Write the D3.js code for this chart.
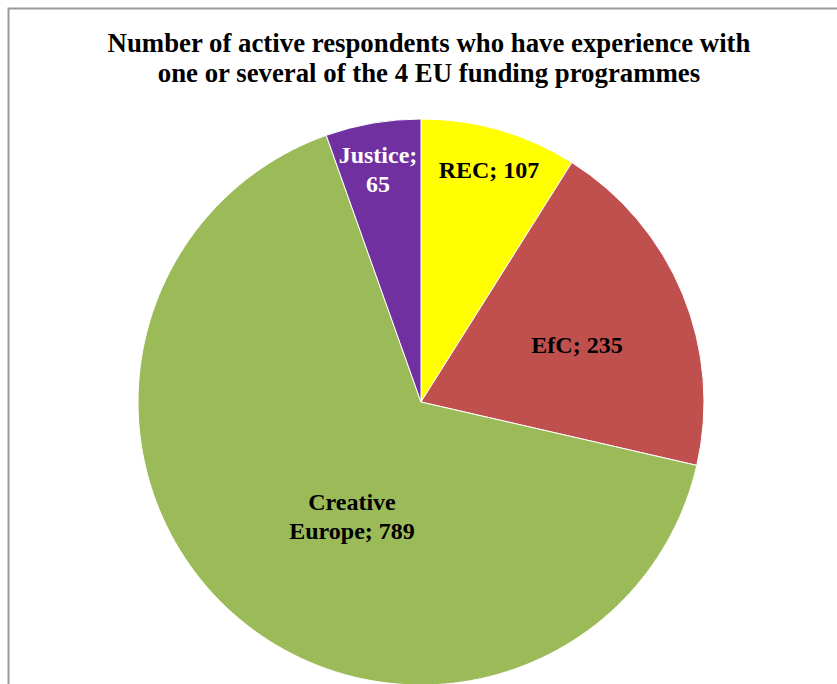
<!DOCTYPE html>
<html><head><meta charset="utf-8">
<script src="https://cdn.jsdelivr.net/npm/d3@7"></script>
<style>body{margin:0;background:#fff}svg{display:block}</style>
</head><body>
<svg id="c" width="837" height="684"></svg>
<script>
const categories = ["REC", "EfC", "Creative Europe", "Justice"];
const values = [107, 235, 789, 65];
const colors = ["#FFFF00", "#C0504D", "#9BBB59", "#7030A0"];
const labelColors = ["#000", "#000", "#000", "#fff"];
const labelLines = [["REC; 107"], ["EfC; 235"], ["Creative", "Europe; 789"], ["Justice;", "65"]];
const labelPos = [[489, 178], [577, 353], [352, 510], [378, 163]];
const titleLines = ["Number of active respondents who have experience with", "one or several of the 4 EU funding programmes"];
const FONT = "'Liberation Serif', 'Times New Roman', Times, serif";

const svg = d3.select("#c");
svg.append("rect").attr("x", 8.5).attr("y", 8.5).attr("width", 900).attr("height", 800)
  .attr("fill", "#fff").attr("stroke", "#999").attr("stroke-width", 2);

svg.append("text").attr("x", 429).attr("y", 52).attr("text-anchor", "middle")
  .style("font-family", FONT).attr("font-weight", "bold")
  .attr("font-size", 26.8).attr("fill", "#000")
  .selectAll("tspan").data(titleLines).join("tspan")
  .attr("x", 429).attr("dy", (d, i) => i ? 29.5 : 0).text(d => d);

const cx = 421, cy = 402, r = 283;
const pie = d3.pie().sort(null).value(d => d)(values);
const arc = d3.arc().innerRadius(0).outerRadius(r);
const g = svg.append("g").attr("transform", `translate(${cx},${cy})`);
g.selectAll("path").data(pie).join("path")
  .attr("d", arc).attr("fill", (d, i) => colors[i])
  .attr("stroke", "#fff").attr("stroke-width", 1);

const lg = svg.append("g").style("font-family", FONT)
  .attr("font-weight", "bold").attr("font-size", 24).attr("text-anchor", "middle");
categories.forEach((c, i) => {
  const lines = labelLines[i];
  const t = lg.append("text").attr("fill", labelColors[i])
    .attr("y", labelPos[i][1]);
  lines.forEach((l, j) => t.append("tspan").attr("x", labelPos[i][0]).attr("dy", j ? 28.5 : 0).text(l));
});
</script>
</body></html>
